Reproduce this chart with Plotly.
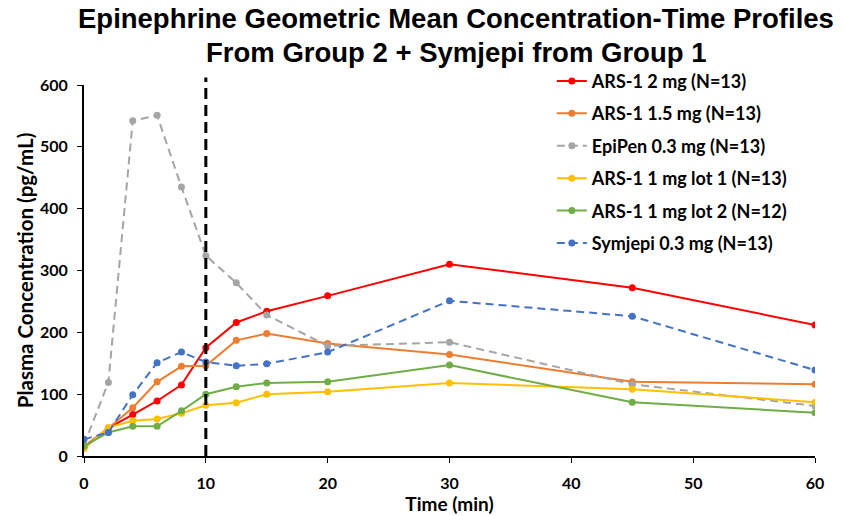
import plotly.graph_objects as go

time = [0, 2, 4, 6, 8, 10, 12.5, 15, 20, 30, 45, 60]
ars1_2mg = [15, 45, 67, 89, 115, 175, 216, 234, 259, 310, 272, 212]
ars1_15mg = [14, 45, 78, 120, 145, 146, 187, 198, 182, 164, 120, 116]
epipen = [18, 119, 542, 551, 435, 324, 280, 228, 178, 184, 116, 81]
ars1_1mg_lot1 = [12, 46, 57, 60, 69, 82, 86, 100, 104, 118, 108, 87]
ars1_1mg_lot2 = [16, 38, 48, 48, 73, 100, 112, 118, 120, 147, 87, 70]
symjepi = [27, 38, 99, 151, 168, 152, 146, 149, 168, 251, 226, 139]

series = [
    ("ARS-1 2 mg (N=13)", ars1_2mg, "#FF0000", "solid"),
    ("ARS-1 1.5 mg (N=13)", ars1_15mg, "#ED7D31", "solid"),
    ("EpiPen 0.3 mg (N=13)", epipen, "#A5A5A5", "8px,5px"),
    ("ARS-1 1 mg lot 1 (N=13)", ars1_1mg_lot1, "#FFC000", "solid"),
    ("ARS-1 1 mg lot 2 (N=12)", ars1_1mg_lot2, "#70AD47", "solid"),
    ("Symjepi 0.3 mg (N=13)", symjepi, "#4472C4", "8px,5px"),
]

fig = go.Figure()
for i, (name, vals, color, dash) in enumerate(series):
    fig.add_trace(go.Scatter(
        x=time, y=vals, name=name, mode="lines+markers",
        legendgroup=f"g{i}",
        line=dict(color=color, width=2, dash=dash),
        marker=dict(color=color, size=7),
    ))

fig.add_shape(type="line", xref="x", yref="paper", x0=10, x1=10, y0=0, y1=1.02,
              line=dict(color="black", width=3, dash="11px,6px"))

title_font = dict(family="'Liberation Sans', Arial, sans-serif", size=27.5, color="black")
fig.add_annotation(text="<b>Epinephrine Geometric Mean Concentration-Time Profiles</b>",
                   xref="paper", yref="paper", x=0.5085, y=1.178, xanchor="center",
                   yanchor="middle", showarrow=False, font=title_font)
fig.add_annotation(text="<b>From Group 2 + Symjepi from Group 1</b>",
                   xref="paper", yref="paper", x=0.5085, y=1.087, xanchor="center",
                   yanchor="middle", showarrow=False, font=title_font)

font_main = "Lato, 'Open Sans', sans-serif"
fig.update_layout(
    width=844, height=516,
    margin=dict(l=84, r=29, t=85, b=60),
    paper_bgcolor="white", plot_bgcolor="white",
    font=dict(family=font_main, color="black"),
    legend=dict(
        x=0.640, y=1.060, xanchor="left", yanchor="top",
        font=dict(size=18, family=font_main, color="black", weight="bold"),
        bgcolor="rgba(255,255,255,0)", itemwidth=30, tracegroupgap=6,
    ),
    showlegend=True,
)
fig.update_xaxes(
    range=[0, 60], tickvals=[0, 10, 20, 30, 40, 50, 60], automargin=False,
    showline=True, linecolor="black", linewidth=2, ticks="outside",
    tickcolor="black", ticklen=5, ticklabelstandoff=7, showgrid=False, zeroline=False,
    tickfont=dict(size=16, family=font_main, weight="bold"),
    title=dict(text="<b>Time (min)</b>", font=dict(size=19, family=font_main), standoff=6),
)
fig.update_yaxes(
    range=[0, 600], tickvals=[0, 100, 200, 300, 400, 500, 600], automargin=False,
    showline=True, linecolor="black", linewidth=2, ticks="outside",
    tickcolor="black", ticklen=5, ticklabelstandoff=6, showgrid=False, zeroline=False,
    tickfont=dict(size=16, family=font_main, weight="bold"),
    title=dict(text="<b>Plasma Concentration (pg/mL)</b>", font=dict(size=20.5, family=font_main), standoff=1),
)

fig.write_html("out.html")
